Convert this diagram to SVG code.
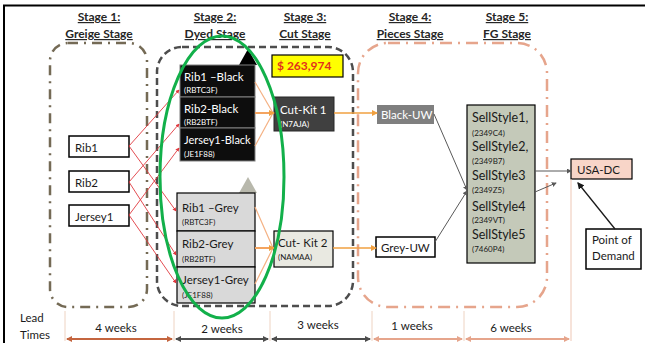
<svg xmlns="http://www.w3.org/2000/svg" width="645" height="343" viewBox="0 0 645 343">
<style>
text{font-family:Lato,"Liberation Sans",sans-serif;fill:#1a1a1a}
.h{font-weight:bold;font-size:12px;text-anchor:middle;text-decoration:underline;fill:#262626}
.n{font-size:11.5px}
.s{font-size:12.5px}
.c{font-size:8px}
.w{fill:#fff}
.wb{fill:#fff;stroke:#000;stroke-width:1.5}
.red{stroke:#e0393e;stroke-width:0.9;fill:none}
.org{stroke:#f4b183;stroke-width:1.2;fill:none}
.gry{stroke:#595959;stroke-width:1;fill:none}
.tick{stroke:#eed3c2;stroke-width:1}
</style>
<defs>
<marker id="mr" viewBox="0 0 6 6" refX="5" refY="3" markerWidth="4" markerHeight="4" markerUnits="userSpaceOnUse" orient="auto"><path d="M0,0L6,3L0,6z" fill="#e0393e"/></marker>
<marker id="mo" viewBox="0 0 6 6" refX="5" refY="3" markerWidth="6" markerHeight="6" markerUnits="userSpaceOnUse" orient="auto"><path d="M0,0L6,3L0,6z" fill="#f0a040"/></marker>
<marker id="mg" viewBox="0 0 6 6" refX="5" refY="3" markerWidth="5" markerHeight="5" markerUnits="userSpaceOnUse" orient="auto"><path d="M0,0L6,3L0,6z" fill="#595959"/></marker>
<marker id="mk" viewBox="0 0 6 6" refX="5" refY="3" markerWidth="7" markerHeight="7" markerUnits="userSpaceOnUse" orient="auto"><path d="M0,0L6,3L0,6z" fill="#1a1a1a"/></marker>
<marker id="a1" viewBox="0 0 6 6" refX="5" refY="3" markerWidth="6" markerHeight="6" markerUnits="userSpaceOnUse" orient="auto-start-reverse"><path d="M0,0L6,3L0,6z" fill="#c4653f"/></marker>
<marker id="a2" viewBox="0 0 6 6" refX="5" refY="3" markerWidth="6" markerHeight="6" markerUnits="userSpaceOnUse" orient="auto-start-reverse"><path d="M0,0L6,3L0,6z" fill="#4d4d4d"/></marker>
<marker id="a3" viewBox="0 0 6 6" refX="5" refY="3" markerWidth="6" markerHeight="6" markerUnits="userSpaceOnUse" orient="auto-start-reverse"><path d="M0,0L6,3L0,6z" fill="#e6a58c"/></marker>
</defs>
<rect width="645" height="343" fill="#fff"/>
<path d="M4,343V5.5H645" fill="none" stroke="#000" stroke-width="2"/>

<g id="headers">
<text class="h" x="99" y="21">Stage 1:</text>
<text class="h" x="99" y="38">Greige Stage</text>
<text class="h" x="215" y="21">Stage 2:</text>
<text class="h" x="215" y="38">Dyed Stage</text>
<text class="h" x="305" y="21">Stage 3:</text>
<text class="h" x="305" y="38">Cut Stage</text>
<text class="h" x="410" y="21">Stage 4:</text>
<text class="h" x="410" y="38">Pieces Stage</text>
<text class="h" x="507" y="21">Stage 5:</text>
<text class="h" x="507" y="38">FG Stage</text>
</g>

<g id="stage-boundaries" fill="none" stroke-width="2.5">
<rect x="50" y="43" width="97" height="264" rx="18" stroke="#746a55" stroke-dasharray="10 6 2 6"/>
<rect x="157" y="47" width="196" height="259" rx="25" stroke="#4d4d4d" stroke-dasharray="7 4"/>
<rect x="358" y="43" width="189" height="264" rx="30" stroke="#e6a58c" stroke-dasharray="12 6 2 6"/>
</g>

<g id="rib1"><rect class="wb" x="69" y="136" width="60" height="21"/><text class="n" x="75" y="152">Rib1</text></g>
<g id="rib2"><rect class="wb" x="69" y="171" width="60" height="21"/><text class="n" x="75" y="187">Rib2</text></g>
<g id="jersey1"><rect class="wb" x="69" y="205" width="60" height="21"/><text class="n" x="75" y="221">Jersey1</text></g>

<g id="black-marker"><path d="M248,49L257,65H239z" fill="#000"/></g>
<g id="rib1-black"><rect x="180" y="65" width="75" height="32" fill="#0d0d0d" stroke="#808080" stroke-width="1"/><text class="n w" x="184" y="81">Rib1 –Black</text><text class="c w" x="184" y="93">(RBTC3F)</text></g>
<g id="rib2-black"><rect x="180" y="97" width="75" height="31" fill="#0d0d0d" stroke="#808080" stroke-width="1"/><text class="n w" x="184" y="113">Rib2-Black</text><text class="c w" x="184" y="125">(RB2BTF)</text></g>
<g id="jersey1-black"><rect x="180" y="128" width="75" height="33" fill="#0d0d0d" stroke="#808080" stroke-width="1"/><text class="w" x="184" y="144" style="font-size:11px">Jersey1-Black</text><text class="c w" x="184" y="157">(JE1F88)</text></g>

<g id="grey-marker"><path d="M248,177L257,193H239z" fill="#b8b8ac"/></g>
<g id="rib1-grey"><rect x="177" y="193" width="78" height="38" fill="#d9d9d9" stroke="#000" stroke-width="1.2"/><text class="n" x="182" y="212">Rib1 –Grey</text><text class="c" x="182" y="225">(RBTC3F)</text></g>
<g id="rib2-grey"><rect x="177" y="231" width="78" height="36" fill="#d9d9d9" stroke="#000" stroke-width="1.2"/><text class="n" x="182" y="248">Rib2-Grey</text><text class="c" x="182" y="262">(RB2BTF)</text></g>
<g id="jersey1-grey"><rect x="177" y="267" width="78" height="36" fill="#d9d9d9" stroke="#000" stroke-width="1.2"/><text class="n" x="182" y="284">Jersey1-Grey</text><text class="c" x="182" y="298">(JE1F88)</text></g>

<g id="cost"><rect x="272" y="55" width="71" height="22" fill="#ffff00" stroke="#000" stroke-width="1.2"/><text x="277" y="70" style="font-weight:bold;font-size:12px;fill:#e2321c">$  263,974</text></g>
<g id="cut-kit-1"><rect x="274" y="97" width="60" height="34" fill="#404040" stroke="#262626" stroke-width="1"/><text class="n w" x="280" y="114">Cut-Kit 1</text><text class="c w" x="280" y="127">(N7AJA)</text></g>
<g id="cut-kit-2"><rect x="274" y="231" width="59" height="36" fill="#e9e9e1" stroke="#000" stroke-width="1.2"/><text class="n" x="278" y="247">Cut- Kit 2</text><text class="c" x="278" y="260">(NAMAA)</text></g>

<g id="black-uw"><rect x="377" y="105" width="57" height="19" fill="#7f7f7f"/><text class="n w" x="381" y="119">Black-UW</text></g>
<g id="grey-uw"><rect x="376" y="237" width="59" height="20" class="wb"/><text class="n" x="381" y="252">Grey-UW</text></g>

<g id="sell-styles"><rect x="467" y="105" width="68" height="158" fill="#c4c9b9" stroke="#000" stroke-width="1.2"/>
<text class="s" x="472" y="122">SellStyle1,</text><text class="c" x="472" y="136">(2349C4)</text>
<text class="s" x="472" y="151">SellStyle2,</text><text class="c" x="472" y="164">(2349B7)</text>
<text class="s" x="472" y="180">SellStyle3</text><text class="c" x="472" y="193">(2349Z5)</text>
<text class="s" x="472" y="211">SellStyle4</text><text class="c" x="472" y="223">(2349VT)</text>
<text class="s" x="472" y="239">SellStyle5</text><text class="c" x="472" y="252">(7460P4)</text>
</g>

<g id="usa-dc"><rect x="571" y="159" width="61" height="20" fill="#f8d5c8" stroke="#000" stroke-width="1.2"/><text class="n" x="577" y="174">USA-DC</text></g>
<g id="point-of-demand"><rect x="586" y="229" width="55" height="40" class="wb"/><text class="n" x="592" y="244">Point of</text><text class="n" x="592" y="260">Demand</text></g>

<g id="connectors">
<line class="red" x1="129" y1="146" x2="179" y2="90" marker-end="url(#mr)"/>
<line class="red" x1="129" y1="146" x2="176" y2="211" marker-end="url(#mr)"/>
<line class="red" x1="129" y1="182" x2="179" y2="124" marker-end="url(#mr)"/>
<line class="red" x1="129" y1="182" x2="176" y2="255" marker-end="url(#mr)"/>
<line class="red" x1="129" y1="215" x2="179" y2="148" marker-end="url(#mr)"/>
<line class="red" x1="129" y1="215" x2="176" y2="283" marker-end="url(#mr)"/>
<polyline class="org" points="255,82 273,113"/>
<polyline class="org" points="255,146 273,113"/>
<line x1="255" y1="113" x2="274" y2="113" stroke="#f4a460" stroke-width="2" marker-end="url(#mo)"/>
<polyline class="org" points="255,207 273,248"/>
<polyline class="org" points="255,284 273,248"/>
<line x1="255" y1="248" x2="274" y2="248" stroke="#f4a460" stroke-width="2" marker-end="url(#mo)"/>
<line x1="334" y1="113" x2="377" y2="113" stroke="#f0a040" stroke-width="1.5" marker-end="url(#mo)"/>
<line x1="333" y1="248" x2="376" y2="248" stroke="#f0a040" stroke-width="1.5" marker-end="url(#mo)"/>
<line class="gry" x1="434" y1="114" x2="467" y2="190" marker-end="url(#mg)"/>
<line class="gry" x1="435" y1="242" x2="467" y2="191" marker-end="url(#mg)"/>
<line class="gry" x1="535" y1="171" x2="571" y2="171" marker-end="url(#mg)"/>
<line class="gry" x1="535" y1="192" x2="556" y2="183" marker-end="url(#mg)"/>
<line x1="615" y1="229" x2="578" y2="183" stroke="#1a1a1a" stroke-width="1.3" marker-end="url(#mk)"/>
</g>

<g id="focus-ellipse"><ellipse cx="222" cy="177" rx="62" ry="141" fill="none" stroke="#12b04a" stroke-width="3"/></g>

<g id="lead-times">
<text class="n" x="20" y="322">Lead</text>
<text class="n" x="20" y="339">Times</text>
<line class="tick" x1="65" y1="311" x2="65" y2="341"/>
<line class="tick" x1="174" y1="311" x2="174" y2="341"/>
<line class="tick" x1="270" y1="311" x2="270" y2="341"/>
<line class="tick" x1="372" y1="311" x2="372" y2="341"/>
<line class="tick" x1="464" y1="311" x2="464" y2="341"/>
<line x1="571" y1="179" x2="571" y2="341" stroke="#eec7b5" stroke-width="1"/>
<line x1="67" y1="339" x2="172" y2="339" stroke="#c4653f" stroke-width="2" marker-start="url(#a1)" marker-end="url(#a1)"/>
<line x1="176" y1="339" x2="268" y2="339" stroke="#4d4d4d" stroke-width="2" marker-start="url(#a2)" marker-end="url(#a2)"/>
<line x1="272" y1="339" x2="370" y2="339" stroke="#4d4d4d" stroke-width="2" marker-start="url(#a2)" marker-end="url(#a2)"/>
<line x1="374" y1="339" x2="462" y2="339" stroke="#e6a58c" stroke-width="2" marker-start="url(#a3)" marker-end="url(#a3)"/>
<line x1="466" y1="339" x2="569" y2="339" stroke="#e6a58c" stroke-width="2" marker-start="url(#a3)" marker-end="url(#a3)"/>
<text class="n" x="116" y="332" text-anchor="middle">4 weeks</text>
<text class="n" x="222" y="333" text-anchor="middle">2 weeks</text>
<text class="n" x="318" y="329" text-anchor="middle">3 weeks</text>
<text class="n" x="412" y="330" text-anchor="middle">1 weeks</text>
<text class="n" x="511" y="332" text-anchor="middle">6 weeks</text>
</g>
</svg>
